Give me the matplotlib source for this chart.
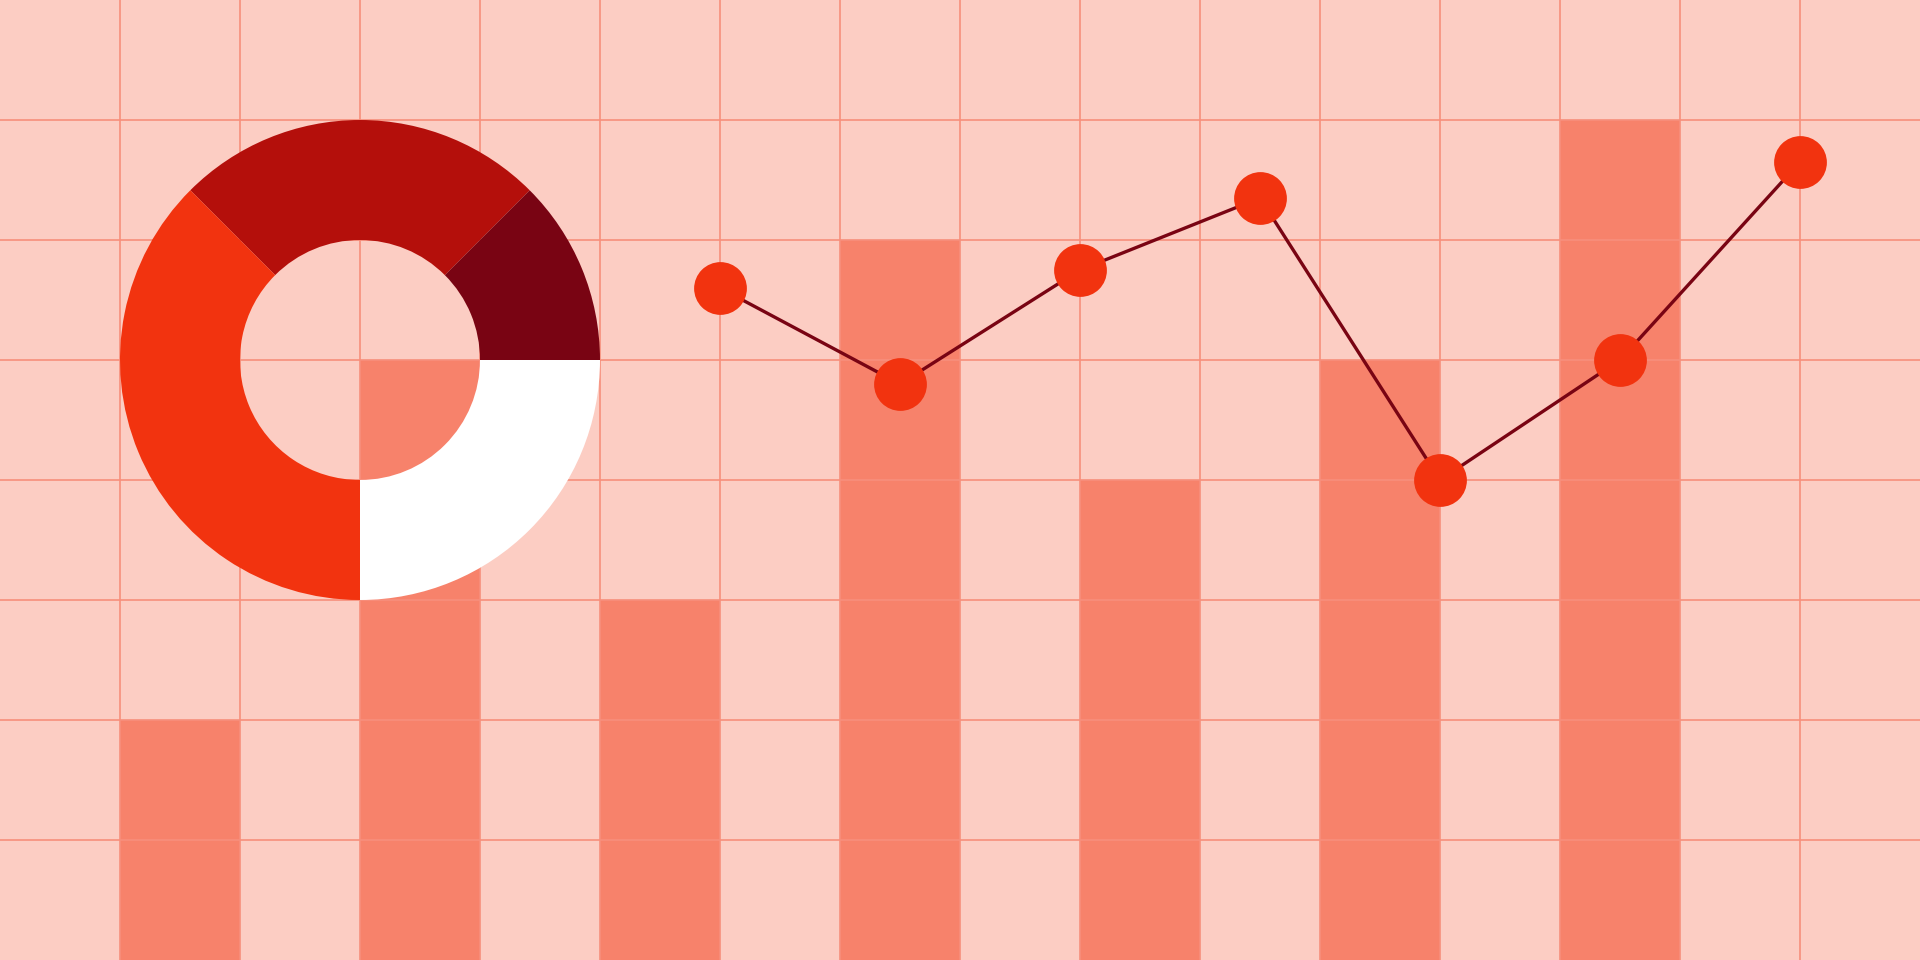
import numpy as np
import matplotlib
matplotlib.use('Agg')
import matplotlib.pyplot as plt

# bars: one every other grid column
bar_x = [1.5, 3.5, 5.5, 7.5, 9.5, 11.5, 13.5]
bar_h = [2, 5, 3, 6, 4, 5, 7]

# line series
line_x = [6, 7.5, 9, 10.5, 12, 13.5, 15]
line_y = [5.6, 4.8, 5.75, 6.35, 4.0, 5.0, 6.65]

# donut shares (clockwise from upper-left)
donut_vals = [25, 12.5, 25, 37.5]
donut_colors = ['#b40f0b', '#790413', '#ffffff', '#f2330f']

bg = '#fccdc3'
bar_color = '#f7826b'
grid_color = '#f78f7c'

fig = plt.figure(figsize=(19.2, 9.6), dpi=100, facecolor=bg)
ax = fig.add_axes([0, 0, 1, 1], facecolor=bg)

ax.bar(bar_x, bar_h, width=1.0, color=bar_color, linewidth=0, zorder=1)

ax.pie(donut_vals, colors=donut_colors, center=(3, 5), radius=2,
       startangle=135, counterclock=False, frame=True,
       wedgeprops=dict(width=1, linewidth=0, zorder=3))

ax.plot(line_x, line_y, color='#790413', linewidth=2.4, zorder=4)
ax.plot(line_x, line_y, linestyle='none', marker='o', markersize=38,
        markerfacecolor='#f2330f', markeredgewidth=0, zorder=5)

ax.set_xlim(0, 16)
ax.set_ylim(0, 8)
ax.set_aspect('auto')
ax.set_xticks(np.arange(1, 16))
ax.set_yticks(np.arange(1, 8))
ax.set_axisbelow('line')
ax.grid(True, color=grid_color, linewidth=1.2)
ax.tick_params(length=0, labelbottom=False, labelleft=False)
for s in ax.spines.values():
    s.set_visible(False)

fig.savefig('out.png', dpi=100, facecolor=bg)
